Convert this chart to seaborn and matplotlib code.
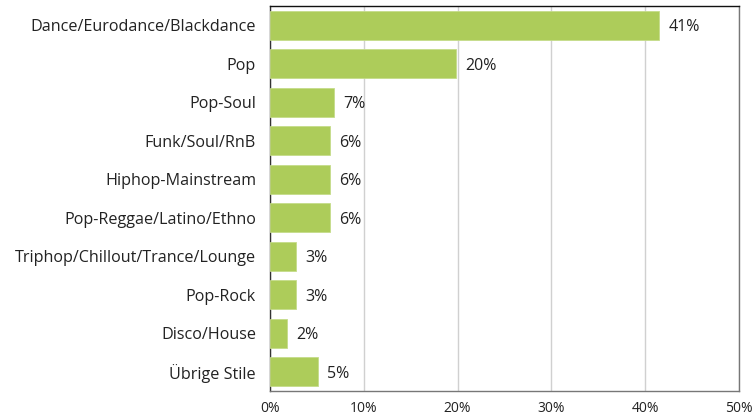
import numpy as np
import pandas as pd
import seaborn as sns
import matplotlib.pyplot as plt

# music styles and their share (percent)
styles = ['Dance/Eurodance/Blackdance', 'Pop', 'Pop-Soul', 'Funk/Soul/RnB',
          'Hiphop-Mainstream', 'Pop-Reggae/Latino/Ethno',
          'Triphop/Chillout/Trance/Lounge', 'Pop-Rock', 'Disco/House',
          'Übrige Stile']
shares = [41.5, 19.8, 6.8, 6.4, 6.4, 6.4, 2.8, 2.8, 1.8, 5.1]
share_labels = ['41%', '20%', '7%', '6%', '6%', '6%', '3%', '3%', '2%', '5%']
x_ticks = [0, 10, 20, 30, 40, 50]
x_tick_labels = ['0%', '10%', '20%', '30%', '40%', '50%']

df = pd.DataFrame({'style': styles, 'share': shares})

sns.set_style('white')
plt.rcParams['font.family'] = ['Open Sans', 'DejaVu Sans']

fig = plt.figure(figsize=(7.54, 4.19), dpi=100)
ax = fig.add_axes([0.358, 0.067, 0.622, 0.919])

sns.barplot(data=df, x='share', y='style', orient='h', color='#adcc5a',
            saturation=1, width=0.75, edgecolor='#c5dc8a', linewidth=0.6,
            ax=ax, zorder=3)

ax.set_xlim(0, 50)
ax.set_ylim(9.5, -0.5)
ax.set_xticks(x_ticks)
ax.set_xticklabels(x_tick_labels, fontsize=10, color='#222222')
ax.tick_params(axis='y', labelsize=11.6, labelcolor='#222222', length=0, pad=10)
ax.tick_params(axis='x', length=0, pad=7)
ax.set_xlabel('')
ax.set_ylabel('')

ax.grid(axis='x', color='#d0d0d0', linewidth=1, zorder=0)
ax.grid(axis='y', visible=False)

ax.spines['top'].set_color('#111111')
ax.spines['left'].set_color('#333333')
ax.spines['right'].set_color('#777777')
ax.spines['bottom'].set_color('#777777')
for s in ax.spines.values():
    s.set_linewidth(1)
    s.set_visible(True)

for i, (v, lab) in enumerate(zip(shares, share_labels)):
    ax.text(v + 1.0, i + 0.05, lab, va='center', ha='left', fontsize=11.5,
            color='#222222')

fig.savefig('out.png', dpi=100)
